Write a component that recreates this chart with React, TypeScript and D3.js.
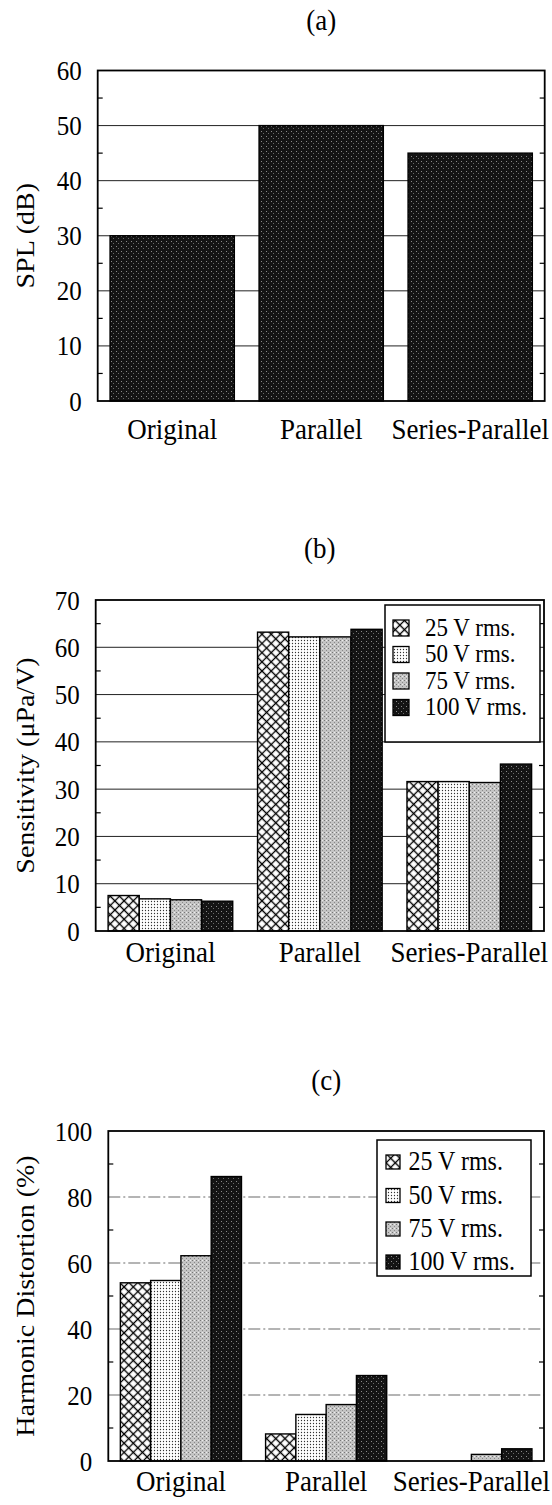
import React, { useRef, useEffect } from "react";
import * as d3 from "d3";

const categories = ["Original", "Parallel", "Series-Parallel"];
const voltageLabels = ["25 V rms.", "50 V rms.", "75 V rms.", "100 V rms."];

// (a) SPL
const splValues = [30, 50, 45];
const splTicks = [0, 10, 20, 30, 40, 50, 60];

// (b) sensitivity, one array per drive level
const sens25 = [7.5, 63.2, 31.6];
const sens50 = [6.8, 62.2, 31.6];
const sens75 = [6.6, 62.2, 31.4];
const sens100 = [6.3, 63.8, 35.3];
const sensTicks = [0, 10, 20, 30, 40, 50, 60, 70];

// (c) harmonic distortion
const hd25 = [54.0, 8.2, 0];
const hd50 = [54.7, 14.1, 0];
const hd75 = [62.2, 17.1, 2.0];
const hd100 = [86.2, 25.9, 3.7];
const hdTicks = [0, 20, 40, 60, 80, 100];

const W = 552;
const H = 1505;
const FONT = "'Liberation Serif', 'Times New Roman', serif";
const STRETCH = 1.12; // the scan is a bit taller than wide

const fills = ["url(#pCross)", "url(#pDots)", "url(#pGray)", "url(#pDark)"];

function addText(sel: any, x: number, y: number, str: string, size: number, anchor = "middle", rotate = false) {
  return sel
    .append("text")
    .attr("transform", `translate(${x},${y}) scale(1,${STRETCH})${rotate ? " rotate(-90)" : ""}`)
    .attr("text-anchor", anchor)
    .attr("font-family", FONT)
    .attr("font-size", size)
    .attr("fill", "#000")
    .text(str);
}

interface Panel {
  title: string;
  yLabel: string;
  top: number;
  bottom: number;
  left: number;
  right: number;
  ticks: number[];
  titleY: number;
  labelY: number;
  dashed: boolean;
  series: number[][];
  seriesFills: string[];
  legend?: { x0: number; x1: number; y0: number; y1: number; rows: number[]; sw: number; swX: number; textX: number; size: number };
}

function drawPanel(svg: any, p: Panel) {
  const g = svg.append("g");
  const x = d3.scaleBand().domain(categories).range([p.left, p.right]).paddingInner(0.166).paddingOuter(0.083);
  const y = d3.scaleLinear().domain([0, p.ticks[p.ticks.length - 1]]).range([p.bottom, p.top]);
  const sub = d3.scaleBand().domain(d3.range(p.series.length).map(String)).range([0, x.bandwidth()]);

  // title
  addText(g, (p.left + p.right) / 2, p.titleY, p.title, 27);

  // gridlines
  g.selectAll(null)
    .data(p.ticks.slice(1, -1))
    .join("line")
    .attr("x1", p.left)
    .attr("x2", p.right)
    .attr("y1", (d: number) => y(d))
    .attr("y2", (d: number) => y(d))
    .attr("stroke", p.dashed ? "#6a6a6a" : "#222")
    .attr("stroke-width", p.dashed ? 1.2 : 1)
    .attr("stroke-dasharray", p.dashed ? "12,3,2,3" : null);

  // minor ticks, inside on both sides
  const minors = p.ticks.slice(0, -1).map((t, i) => (t + p.ticks[i + 1]) / 2);
  minors.forEach((m) => {
    g.append("line").attr("x1", p.left).attr("x2", p.left + 5).attr("y1", y(m)).attr("y2", y(m)).attr("stroke", "#000").attr("stroke-width", 1.2);
    g.append("line").attr("x1", p.right - 5).attr("x2", p.right).attr("y1", y(m)).attr("y2", y(m)).attr("stroke", "#000").attr("stroke-width", 1.2);
  });

  // bars
  p.series.forEach((vals, si) => {
    const rows = categories.map((c, i) => ({ c, v: vals[i] })).filter((d) => d.v > 0);
    g.selectAll(null)
      .data(rows)
      .join("rect")
      .attr("x", (d: any) => (x(d.c) as number) + (sub(String(si)) as number))
      .attr("y", (d: any) => y(d.v))
      .attr("width", sub.bandwidth())
      .attr("height", (d: any) => y(0) - y(d.v))
      .attr("fill", p.seriesFills[si])
      .attr("stroke", "#000")
      .attr("stroke-width", 1.4);
  });

  // frame
  g.append("rect")
    .attr("x", p.left)
    .attr("y", p.top)
    .attr("width", p.right - p.left)
    .attr("height", p.bottom - p.top)
    .attr("fill", "none")
    .attr("stroke", "#000")
    .attr("stroke-width", 1.8);

  // y tick labels
  p.ticks.forEach((t) => {
    addText(g, p.left - 16, y(t) + 9.5, String(t), 25, "end");
  });

  // category labels
  categories.forEach((c) => {
    addText(g, (x(c) as number) + x.bandwidth() / 2, p.labelY, c, 27);
  });

  // y axis title
  addText(g, 34, (p.top + p.bottom) / 2, p.yLabel, 25, "middle", true);

  // legend
  if (p.legend) {
    const L = p.legend;
    g.append("rect")
      .attr("x", L.x0)
      .attr("y", L.y0)
      .attr("width", L.x1 - L.x0)
      .attr("height", L.y1 - L.y0)
      .attr("fill", "#fff")
      .attr("stroke", "#000")
      .attr("stroke-width", 1.5);
    voltageLabels.forEach((lab, i) => {
      g.append("rect")
        .attr("x", L.swX)
        .attr("y", L.rows[i] - L.sw / 2)
        .attr("width", L.sw)
        .attr("height", L.sw)
        .attr("fill", fills[i])
        .attr("stroke", "#000")
        .attr("stroke-width", 1.3);
      addText(g, L.textX, L.rows[i] + L.size * 0.34, lab, L.size, "start");
    });
  }
}

export default function App() {
  const ref = useRef<SVGSVGElement>(null);

  useEffect(() => {
    if (!ref.current) return;
    const svg = d3.select(ref.current);
    svg.selectAll("*").remove();

    // fill patterns
    const defs = svg.append("defs");
    const cross = defs.append("pattern").attr("id", "pCross").attr("patternUnits", "userSpaceOnUse")
      .attr("width", 6.5).attr("height", 6.5).attr("patternTransform", "rotate(45)");
    cross.append("rect").attr("width", 6.5).attr("height", 6.5).attr("fill", "#fff");
    cross.append("path").attr("d", "M3.25,0V6.5M0,3.25H6.5").attr("stroke", "#000").attr("stroke-width", 1.3);

    const dots = defs.append("pattern").attr("id", "pDots").attr("patternUnits", "userSpaceOnUse").attr("width", 3).attr("height", 3);
    dots.append("rect").attr("width", 3).attr("height", 3).attr("fill", "#fff");
    dots.append("circle").attr("cx", 1.5).attr("cy", 1.5).attr("r", 0.65).attr("fill", "#333");

    const gray = defs.append("pattern").attr("id", "pGray").attr("patternUnits", "userSpaceOnUse").attr("width", 4).attr("height", 4);
    gray.append("rect").attr("width", 4).attr("height", 4).attr("fill", "#c4c4c4");
    gray.append("rect").attr("x", 0).attr("y", 0).attr("width", 1).attr("height", 1).attr("fill", "#777");
    gray.append("rect").attr("x", 2).attr("y", 2).attr("width", 1).attr("height", 1).attr("fill", "#888");
    gray.append("rect").attr("x", 2).attr("y", 0).attr("width", 1).attr("height", 1).attr("fill", "#eee");

    const dark = defs.append("pattern").attr("id", "pDark").attr("patternUnits", "userSpaceOnUse").attr("width", 5).attr("height", 5);
    dark.append("rect").attr("width", 5).attr("height", 5).attr("fill", "#141414");
    dark.append("rect").attr("x", 1).attr("y", 1).attr("width", 1).attr("height", 1).attr("fill", "#8a8a8a");
    dark.append("rect").attr("x", 3).attr("y", 3).attr("width", 1).attr("height", 1).attr("fill", "#6a6a6a");

    drawPanel(svg, {
      title: "(a)",
      yLabel: "SPL (dB)",
      top: 70.5,
      bottom: 401,
      left: 97.7,
      right: 544.7,
      ticks: splTicks,
      titleY: 30,
      labelY: 439,
      dashed: false,
      series: [splValues],
      seriesFills: ["url(#pDark)"],
    });

    drawPanel(svg, {
      title: "(b)",
      yLabel: "Sensitivity (μPa/V)",
      top: 600,
      bottom: 931,
      left: 95.7,
      right: 544,
      ticks: sensTicks,
      titleY: 558,
      labelY: 962,
      dashed: false,
      series: [sens25, sens50, sens75, sens100],
      seriesFills: fills,
      legend: { x0: 385, x1: 540, y0: 605, y1: 742, rows: [628, 654.5, 681, 707.5], sw: 16, swX: 393, textX: 425, size: 23 },
    });

    drawPanel(svg, {
      title: "(c)",
      yLabel: "Harmonic Distortion (%)",
      top: 1131,
      bottom: 1461,
      left: 108.3,
      right: 544,
      ticks: hdTicks,
      titleY: 1090,
      labelY: 1491,
      dashed: true,
      series: [hd25, hd50, hd75, hd100],
      seriesFills: fills,
      legend: { x0: 377, x1: 531, y0: 1140, y1: 1276, rows: [1162, 1195.5, 1229, 1262], sw: 14, swX: 386, textX: 408.5, size: 24 },
    });
  }, []);

  return (
    <div style={{ position: "absolute", left: 0, top: 0 }}>
      <svg ref={ref} width={W} height={H} style={{ display: "block", background: "#fff" }} />
    </div>
  );
}
